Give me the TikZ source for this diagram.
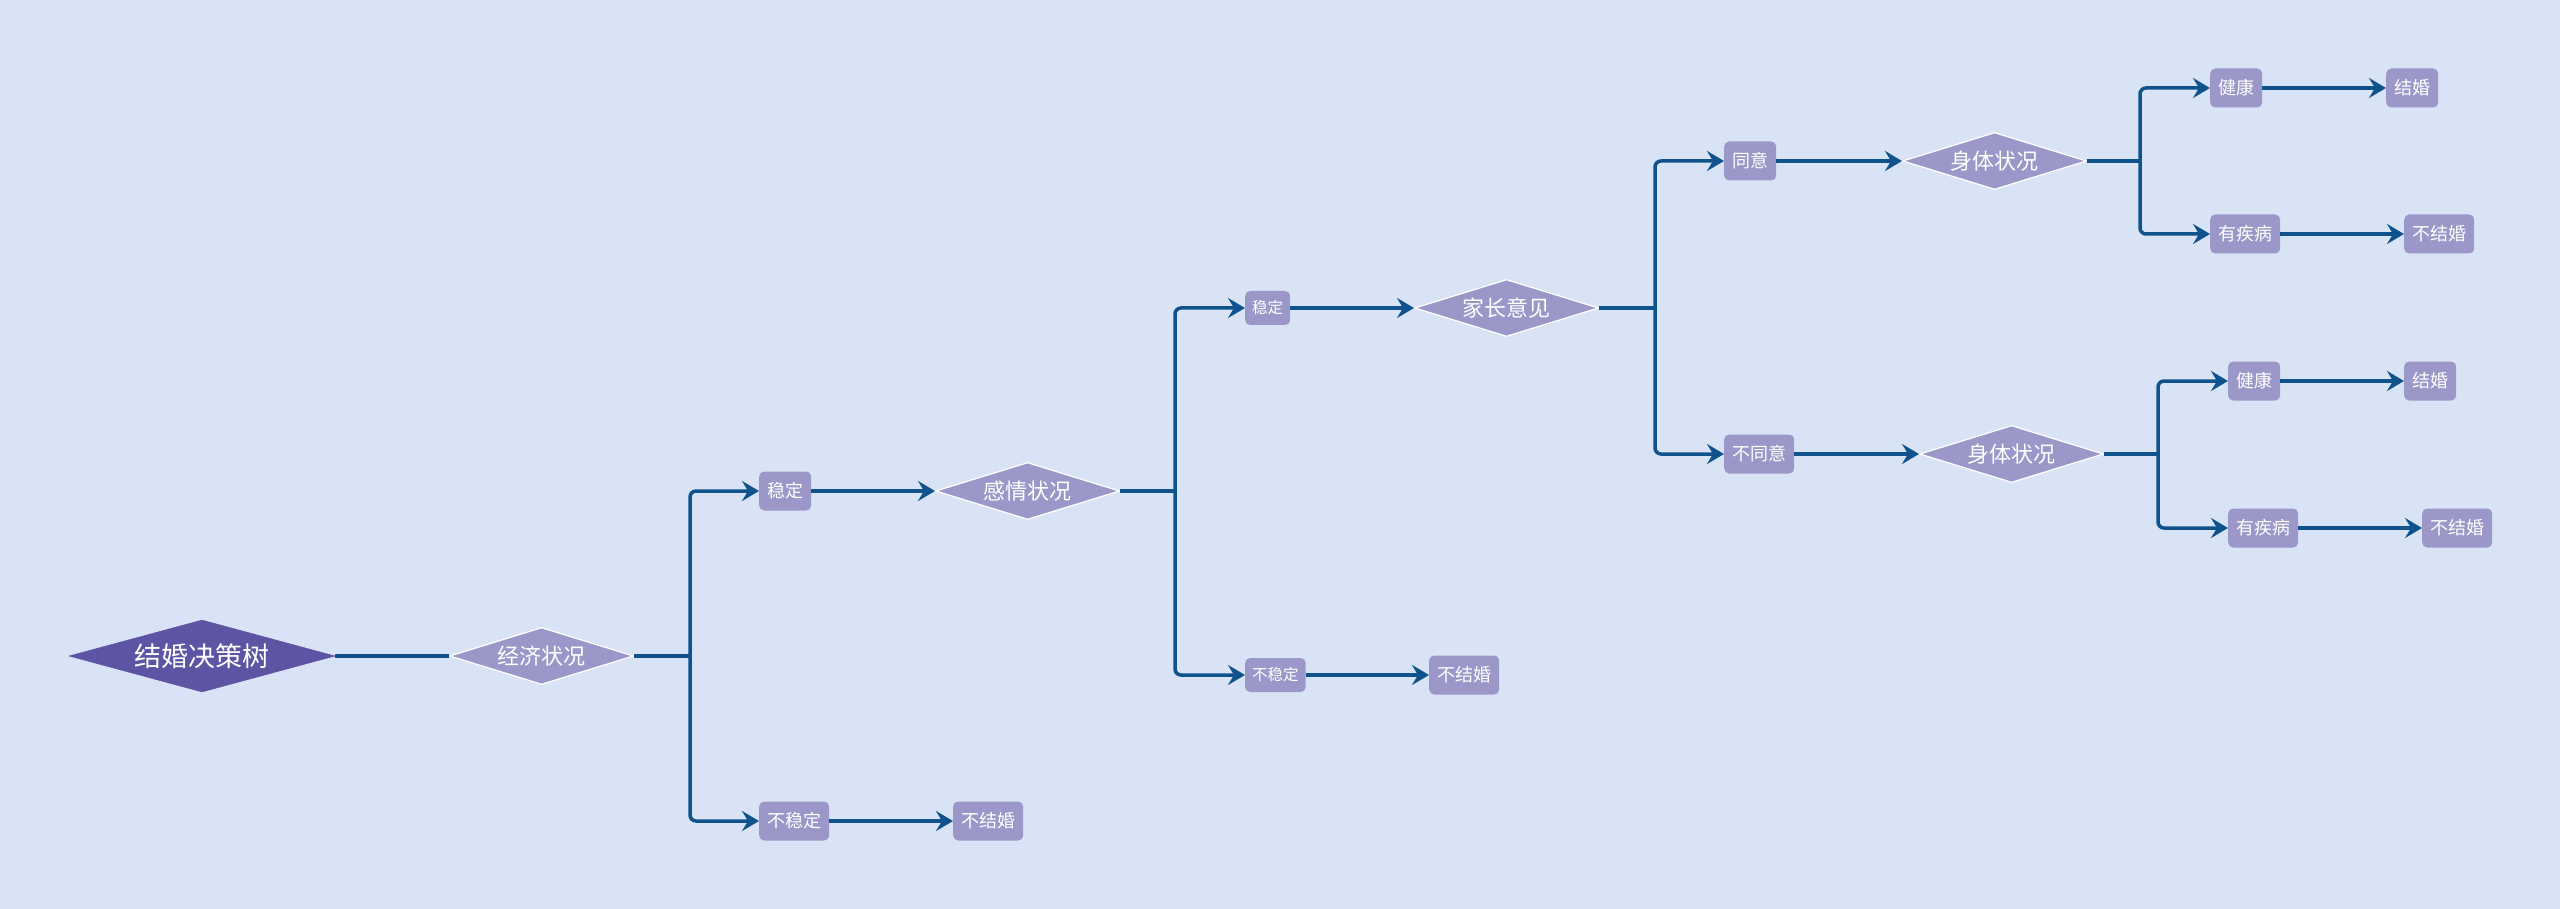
\documentclass[tikz,border=0pt]{standalone}
\usepackage{fontspec}
\newfontfamily\cjk{Noto Sans CJK SC}
\usetikzlibrary{shapes.geometric,arrows.meta}
\definecolor{bgc}{RGB}{216,228,245}
\definecolor{boxc}{RGB}{155,151,200}
\definecolor{rootc}{RGB}{94,84,164}
\definecolor{linec}{RGB}{16,82,140}
\tikzset{
  dia/.style={diamond, aspect=3.2, inner sep=0pt, minimum width=184pt, minimum height=57pt,
    fill=boxc, draw=white, line width=1.2pt, text=white, font=\cjk\fontsize{22}{24}\selectfont},
  rootdia/.style={dia, fill=rootc, draw=rootc, line width=0.5pt, minimum width=266pt, minimum height=72pt,
    aspect=3.7, font=\cjk\fontsize{27}{30}\selectfont},
  box/.style={rectangle, rounded corners=5pt, fill=boxc, text=white, inner xsep=8pt, inner ysep=0pt,
    minimum height=39pt, font=\cjk\fontsize{18}{20}\selectfont, anchor=west},
  sbox/.style={box, inner xsep=7pt, minimum height=34pt, font=\cjk\fontsize{15.5}{17}\selectfont},
  link/.style={draw=linec, line width=3.5pt},
  arr/.style={link, -{Stealth[length=17pt,width=20pt,inset=6pt]}, rounded corners=6pt},
}
\begin{document}
\begin{tikzpicture}[x=1pt,y=-1pt]
\useasboundingbox (0,0) rectangle (2560,909);
\fill[bgc] (0,0) rectangle (2560,909);

% nodes
\node[rootdia] (root) at (202,656) {结婚决策树};
\node[dia, anchor=west] (econ) at (449,656) {经济状况};
\coordinate (J1) at (690,656);
\node[box] (s1) at (759,491) {稳定};
\node[dia, anchor=west] (emo) at (935,491) {感情状况};
\node[box] (ns1) at (759,821) {不稳定};
\node[box] (nm1) at (953,821) {不结婚};
\coordinate (J2) at (1175,491);
\node[sbox] (s2) at (1245,308) {稳定};
\node[dia, anchor=west] (fam) at (1414,308) {家长意见};
\node[sbox] (ns2) at (1245,675) {不稳定};
\node[box] (nm2) at (1429,675) {不结婚};
\coordinate (J3) at (1655,308);
\node[box] (ag) at (1724,161) {同意};
\node[dia, anchor=west] (body1) at (1902,161) {身体状况};
\node[box] (dis) at (1724,454) {不同意};
\node[dia, anchor=west] (body2) at (1919,454) {身体状况};
\coordinate (J4) at (2140,161);
\node[box] (h1) at (2210,88) {健康};
\node[box] (m1) at (2386,88) {结婚};
\node[box] (ill1) at (2210,234) {有疾病};
\node[box] (nm3) at (2404,234) {不结婚};
\coordinate (J5) at (2158,454);
\node[box] (h2) at (2228,381) {健康};
\node[box] (m2) at (2404,381) {结婚};
\node[box] (ill2) at (2228,528) {有疾病};
\node[box] (nm4) at (2422,528) {不结婚};

% connectors
\draw[link] (root.east) -- (econ.west);
\draw[link] (econ.east) -- (J1);
\draw[arr] (J1) |- (s1.west);
\draw[arr] (J1) |- (ns1.west);
\draw[arr] (s1.east) -- (emo.west);
\draw[arr] (ns1.east) -- (nm1.west);
\draw[link] (emo.east) -- (J2);
\draw[arr] (J2) |- (s2.west);
\draw[arr] (J2) |- (ns2.west);
\draw[arr] (s2.east) -- (fam.west);
\draw[arr] (ns2.east) -- (nm2.west);
\draw[link] (fam.east) -- (J3);
\draw[arr] (J3) |- (ag.west);
\draw[arr] (J3) |- (dis.west);
\draw[arr] (ag.east) -- (body1.west);
\draw[arr] (dis.east) -- (body2.west);
\draw[link] (body1.east) -- (J4);
\draw[arr] (J4) |- (h1.west);
\draw[arr] (J4) |- (ill1.west);
\draw[arr] (h1.east) -- (m1.west);
\draw[arr] (ill1.east) -- (nm3.west);
\draw[link] (body2.east) -- (J5);
\draw[arr] (J5) |- (h2.west);
\draw[arr] (J5) |- (ill2.west);
\draw[arr] (h2.east) -- (m2.west);
\draw[arr] (ill2.east) -- (nm4.west);
\end{tikzpicture}
\end{document}
